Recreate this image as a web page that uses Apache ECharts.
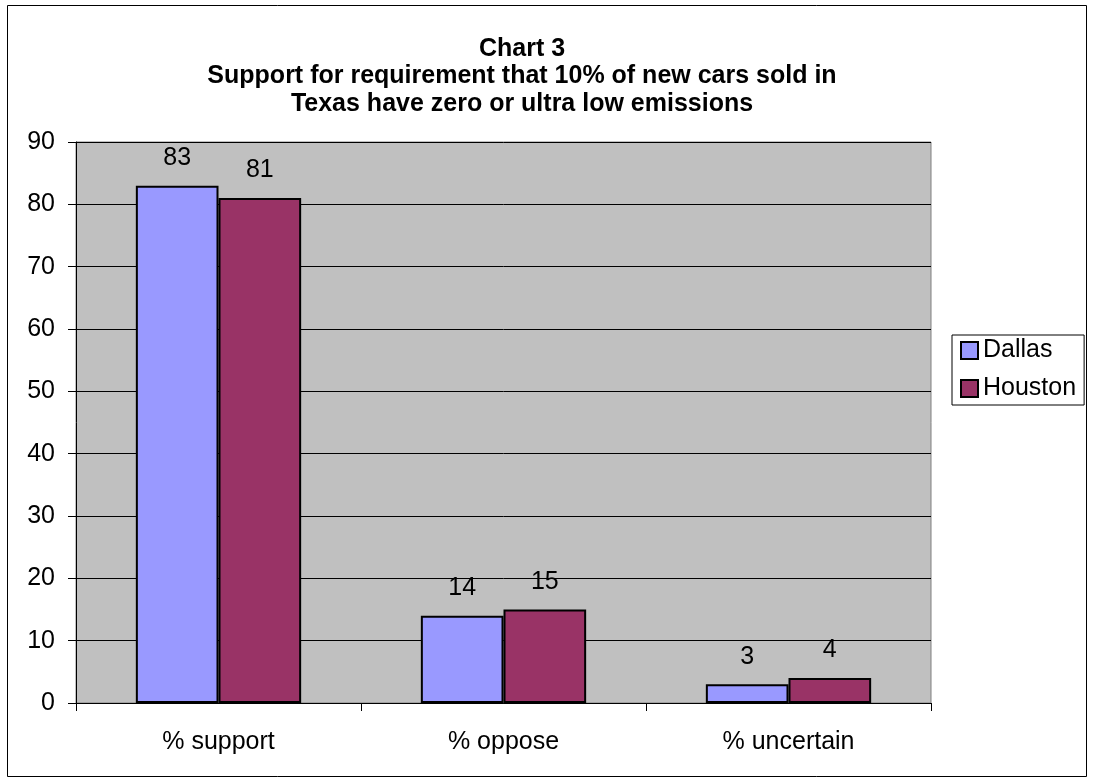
<!DOCTYPE html>
<html><head><meta charset="utf-8">
<script src="https://cdn.jsdelivr.net/npm/echarts@6/dist/echarts.min.js"></script>
<style>html,body{margin:0;padding:0;background:#fff}#c{width:1094px;height:782px}</style>
</head><body><div id="c"></div>
<script>
const categories = ['% support', '% oppose', '% uncertain'];
const dallas = [83, 14, 3];
const houston = [81, 15, 4];
const yTicks = [0, 10, 20, 30, 40, 50, 60, 70, 80, 90];
const titleText = 'Chart 3\nSupport for requirement that 10% of new cars sold in\nTexas have zero or ultra low emissions';

const chart = echarts.init(document.getElementById('c'));
const font = 'Liberation Sans, Arial, sans-serif';
const lbl = {show: true, position: 'top', color: '#000', fontSize: 25, fontFamily: font, distance: 15};
chart.setOption({
  animation: false,
  graphic: [{type: 'rect', shape: {x: 7.5, y: 5.5, width: 1079, height: 771}, style: {fill: 'none', stroke: '#000', lineWidth: 1}, silent: true}],
  title: {text: titleText, left: 522, top: 35, textAlign: 'center', padding: 0,
    textStyle: {fontFamily: font, fontSize: 25, fontWeight: 'bold', color: '#000', lineHeight: 27.5}},
  legend: {orient: 'vertical', left: 952, top: 335, itemWidth: 17, itemHeight: 17, itemGap: 13, icon: 'rect',
    padding: [3, 8, 4, 8], borderColor: '#000', borderWidth: 1, backgroundColor: '#fff',
    textStyle: {fontFamily: font, fontSize: 25, color: '#000'},
    data: [{name: 'Dallas', itemStyle: {borderColor: '#000', borderWidth: 2}}, {name: 'Houston', itemStyle: {borderColor: '#000', borderWidth: 2}}]},
  grid: {left: 76, right: 163, top: 142, bottom: 79, show: true, backgroundColor: '#c0c0c0', borderColor: '#808080', borderWidth: 1},
  xAxis: {type: 'category', data: categories,
    axisLine: {lineStyle: {color: '#000'}}, axisTick: {show: true, length: 8, lineStyle: {color: '#000'}},
    axisLabel: {fontFamily: font, fontSize: 25, color: '#000', margin: 27}},
  yAxis: {type: 'value', min: 0, max: 90, interval: 10,
    axisLine: {show: true, lineStyle: {color: '#000'}}, axisTick: {show: true, length: 8, lineStyle: {color: '#000'}},
    splitLine: {lineStyle: {color: '#000', width: 1}},
    axisLabel: {fontFamily: font, fontSize: 25, color: '#000', margin: 21,
      formatter: v => yTicks.includes(v) ? String(v) : ''}},
  series: [
    {name: 'Dallas', type: 'bar', data: dallas, barGap: '0%', barCategoryGap: '42%',
      itemStyle: {color: '#9999ff', borderColor: '#000', borderWidth: 2}, label: lbl},
    {name: 'Houston', type: 'bar', data: houston,
      itemStyle: {color: '#993366', borderColor: '#000', borderWidth: 2}, label: lbl}
  ]
});
</script></body></html>
